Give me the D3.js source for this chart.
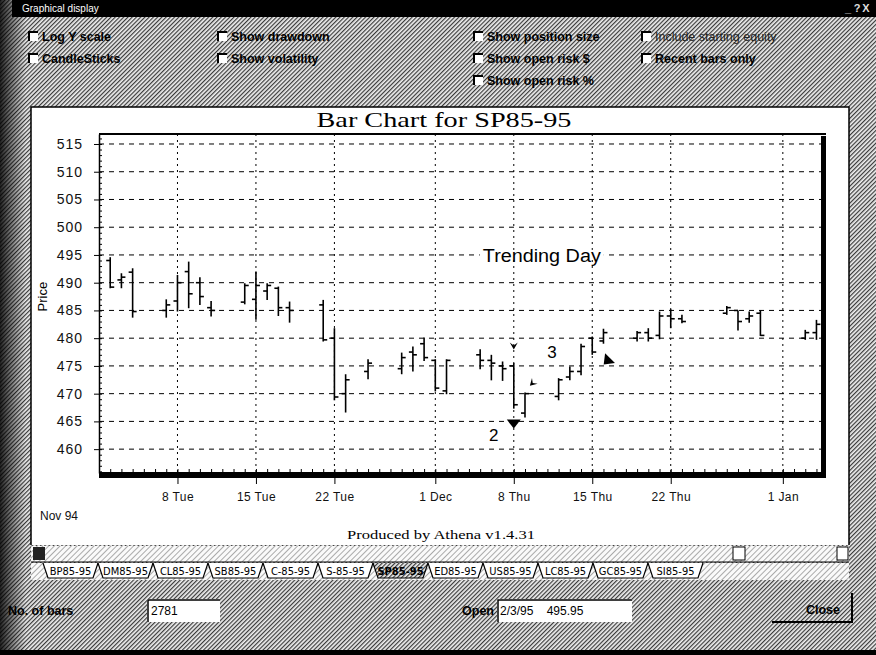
<!DOCTYPE html>
<html lang="en">
  <head>
    <meta charset="UTF-8" />
    <title>Bar Chart for SP85-95</title>
    <style>
      body {
        margin: 0;
        background: #fff;
      }
      svg {
        display: block;
        font-family: "Liberation Sans", Arial, sans-serif;
      }
    </style>
  </head>
  <body>
    <svg id="win" width="876" height="655"></svg>
    <script src="https://cdn.jsdelivr.net/npm/d3@7"></script>
    <script>
      // daily bars
      const barDates = [
        "1994-11-02", "1994-11-03", "1994-11-04", "1994-11-07", "1994-11-08", "1994-11-09",
        "1994-11-10", "1994-11-11", "1994-11-14", "1994-11-15", "1994-11-16", "1994-11-17",
        "1994-11-18", "1994-11-21", "1994-11-22", "1994-11-23", "1994-11-25", "1994-11-28",
        "1994-11-29", "1994-11-30", "1994-12-01", "1994-12-02", "1994-12-05", "1994-12-06",
        "1994-12-07", "1994-12-08", "1994-12-09", "1994-12-12", "1994-12-13", "1994-12-14",
        "1994-12-15", "1994-12-16", "1994-12-19", "1994-12-20", "1994-12-21", "1994-12-22",
        "1994-12-23", "1994-12-27", "1994-12-28", "1994-12-29", "1994-12-30", "1995-01-03",
        "1995-01-04",
      ];
      const opens = [
        494, 490.5, 491.9, 485, 486.7, 492, 490, 485.5, 486.5, 487, 488.5, 489, 485.5, 486, 480,
        470, 474, 474.5, 477.5, 479, 476, 470.5, 477, 476, 475, 475, 466.5, 469.5, 473, 474, 480,
        479.5, 480, 481, 480.5, 484, 483.5, 484.5, 485, 483.5, 484.5, 480, 481,
      ];
      const highs = [
        494.6, 491.7, 492.6, 487, 491.4, 493.8, 491, 486.7, 489.9, 492, 489.9, 489.3, 486.6,
        486.9, 481.8, 473.5, 476.2, 477.4, 478.5, 480.1, 476.2, 476.2, 478, 477, 475.8, 475.5,
        470.2, 472.8, 474.9, 479, 480.3, 481.7, 481.3, 481.8, 484.8, 485.2, 484.2, 485.8, 485,
        484.8, 485, 481.5, 483.3,
      ];
      const lows = [
        489, 489, 483.7, 483.7, 484.8, 485.4, 486, 483.9, 486.1, 483.3, 486.9, 484, 482.8, 479.4,
        468.8, 466.6, 472.6, 473.5, 474, 475.9, 470.4, 469.9, 474.4, 472.4, 472.3, 467.3, 465.7,
        468.8, 472.4, 473.3, 477, 479, 479.4, 479.4, 479.8, 481.8, 482.7, 484.2, 481.4, 482.8,
        480.4, 479.7, 479.7,
      ];
      const closes = [
        489.2, 491, 484.8, 486, 490, 488, 487.5, 485, 489.5, 489.5, 489.5, 485.5, 485, 479.7,
        469.4, 472.5, 475.5, 476.5, 477, 476.5, 471, 476, 476, 475.5, 474.5, 468, 470, 472.5, 474,
        478.5, 477.5, 481, 481, 480, 484, 483.5, 483, 485.5, 483, 484, 480.5, 481, 482.5,
      ];

      const yTicks = [460, 465, 470, 475, 480, 485, 490, 495, 500, 505, 510, 515];
      const tickDates = [
        "1994-11-08", "1994-11-15", "1994-11-22", "1994-12-01", "1994-12-08", "1994-12-15",
        "1994-12-22", "1995-01-01",
      ];
      const tickLabels = ["8 Tue", "15 Tue", "22 Tue", "1 Dec", "8 Thu", "15 Thu", "22 Thu", "1 Jan"];

      // trade markers and notes drawn on the chart
      const markerDates = ["1994-12-08", "1994-12-08", "1994-12-09T15:00", "1994-12-16T08:00"];
      const markerValues = [478.5, 464.6, 471.8, 475.9];
      const markerShapes = ["small", "big", "small", "big"];
      const markerTurns = [0, 0, 45, 45];
      const noteTexts = ["2", "3"];
      const noteDates = ["1994-12-06T05:00", "1994-12-11T10:00"];
      const noteValues = [462.5, 477.5];

      const checkLabels = [
        "Log Y scale", "CandleSticks", "Show drawdown", "Show volatility", "Show position size",
        "Show open risk $", "Show open risk %", "Include starting equity", "Recent bars only",
      ];
      const tabLabels = [
        "BP85-95", "DM85-95", "CL85-95", "SB85-95", "C-85-95", "S-85-95", "SP85-95", "ED85-95",
        "US85-95", "LC85-95", "GC85-95", "SI85-95",
      ];

      const W = 876;
      const H = 655;
      const svg = d3.select("#win");
      const defs = svg.append("defs");

      // dithered grey of the old window background
      const dither = defs
        .append("pattern")
        .attr("id", "dither")
        .attr("width", 3)
        .attr("height", 3)
        .attr("patternUnits", "userSpaceOnUse")
        .attr("patternTransform", "rotate(-45)");
      dither.append("rect").attr("width", 3).attr("height", 3).attr("fill", "#eeeeee");
      dither.append("rect").attr("width", 3).attr("height", 1.2).attr("fill", "#3a3a3a");

      const light = defs
        .append("pattern")
        .attr("id", "light")
        .attr("width", 4)
        .attr("height", 4)
        .attr("patternUnits", "userSpaceOnUse")
        .attr("patternTransform", "rotate(-45)");
      light.append("rect").attr("width", 4).attr("height", 4).attr("fill", "#fafafa");
      light.append("rect").attr("width", 4).attr("height", 0.7).attr("fill", "#888");

      const shade = defs.append("linearGradient").attr("id", "shade");
      shade.append("stop").attr("offset", 0).attr("stop-color", "#000").attr("stop-opacity", 0.85);
      shade.append("stop").attr("offset", 0.45).attr("stop-color", "#000").attr("stop-opacity", 0.45);
      shade.append("stop").attr("offset", 1).attr("stop-color", "#000").attr("stop-opacity", 0);

      svg.append("rect").attr("width", W).attr("height", H).attr("fill", "url(#dither)");

      // title bar
      svg.append("rect").attr("x", 12).attr("width", W - 12).attr("height", 17).attr("fill", "#000");
      svg
        .append("text")
        .attr("x", 22)
        .attr("y", 12)
        .attr("fill", "#fff")
        .attr("font-size", 10)
        .text("Graphical display");
      svg
        .selectAll(".winbtn")
        .data(["_", "?", "X"])
        .join("text")
        .attr("x", (d, i) => 848 + i * 9)
        .attr("y", 12)
        .attr("fill", "#ddd")
        .attr("font-size", 11)
        .attr("font-weight", "bold")
        .attr("text-anchor", "middle")
        .text((d) => d);

      // option checkboxes
      const checkX = [28, 28, 217, 217, 473, 473, 473, 641, 641];
      const checkY = [36, 58, 36, 58, 36, 58, 80, 36, 58];
      const checks = svg
        .selectAll(".check")
        .data(checkLabels)
        .join("g")
        .attr("transform", (d, i) => `translate(${checkX[i]},${checkY[i]})`);
      checks.append("rect").attr("x", 0).attr("y", -5).attr("width", 10).attr("height", 10).attr("fill", "#fff");
      checks.append("path").attr("d", "M1,5V-4H10").attr("fill", "none").attr("stroke", "#000").attr("stroke-width", 2);
      checks
        .append("text")
        .attr("x", 14)
        .attr("y", 4.5)
        .attr("font-size", 12.5)
        .attr("font-weight", (d) => (d.startsWith("Include") ? "normal" : "bold"))
        .attr("fill", (d) => (d.startsWith("Include") ? "#222" : "#000"))
        .text((d) => d);

      // white chart panel
      svg.append("rect").attr("x", 31).attr("y", 107).attr("width", 818).attr("height", 438).attr("fill", "#fff");
      svg.append("path").attr("d", "M31,545V107H849V545").attr("fill", "none").attr("stroke", "#000").attr("stroke-width", 1.5);

      const x = d3
        .scaleUtc()
        .domain([new Date("1994-11-01"), new Date("1995-01-04T14:00")])
        .range([99, 823]);
      const y = d3.scaleLinear().domain([455.7, 516.8]).range([473, 134]);
      const [x0, x1] = x.range();
      const [yb, yt] = y.range();

      const plot = svg.append("g");

      plot
        .selectAll(".hgrid")
        .data(yTicks)
        .join("line")
        .attr("x1", x0)
        .attr("x2", x1)
        .attr("y1", (d) => y(d))
        .attr("y2", (d) => y(d))
        .attr("stroke", "#000")
        .attr("stroke-dasharray", "5,5");
      plot
        .selectAll(".vgrid")
        .data(tickDates)
        .join("line")
        .attr("x1", (d) => x(new Date(d)))
        .attr("x2", (d) => x(new Date(d)))
        .attr("y1", yt)
        .attr("y2", yb)
        .attr("stroke", "#000")
        .attr("stroke-dasharray", "2,4");

      // note text sits on a white patch over the grid
      const trendX = x(new Date("1994-12-10T12:00"));
      const trendY = y(495);
      plot.append("rect").attr("x", trendX - 62).attr("y", trendY - 5).attr("width", 124).attr("height", 10).attr("fill", "#fff");
      plot
        .append("text")
        .attr("x", trendX)
        .attr("y", trendY + 7)
        .attr("text-anchor", "middle")
        .attr("font-size", 18)
        .attr("textLength", 118)
        .attr("lengthAdjust", "spacingAndGlyphs")
        .text("Trending Day");

      // frame: thin top, heavy right and bottom
      plot.append("line").attr("x1", x0).attr("x2", x1 + 3).attr("y1", yt).attr("y2", yt).attr("stroke", "#000").attr("stroke-width", 2);
      plot.append("rect").attr("x", x1 - 2).attr("y", yt + 2).attr("width", 5).attr("height", yb - yt + 3).attr("fill", "#000");
      plot.append("rect").attr("x", x0).attr("y", yb - 1).attr("width", x1 - x0 + 3).attr("height", 6).attr("fill", "#000");

      // y axis with unit minor ticks
      const yAxis = plot
        .append("g")
        .attr("transform", `translate(${x0},0)`)
        .call(d3.axisLeft(y).tickValues(yTicks).tickSize(5).tickSizeOuter(0).tickPadding(11));
      yAxis.select(".domain").attr("stroke-width", 1.5);
      yAxis.selectAll("text").attr("font-size", 14).attr("letter-spacing", 1).attr("fill", "#111");
      plot
        .append("g")
        .attr("transform", `translate(${x0},0)`)
        .call(d3.axisRight(y).tickValues(d3.range(456, 517)).tickSize(3).tickFormat(""))
        .call((g) => g.select(".domain").remove());

      // day ticks above the heavy base
      plot
        .append("g")
        .attr("transform", `translate(0,${yb - 1})`)
        .call(d3.axisTop(x).ticks(d3.utcDay).tickSize(3).tickFormat(""))
        .call((g) => g.select(".domain").remove());

      const xAxis = plot
        .append("g")
        .attr("transform", `translate(0,${yb + 5})`)
        .call(
          d3
            .axisBottom(x)
            .tickValues(tickDates.map((d) => new Date(d)))
            .tickFormat((d, i) => tickLabels[i])
            .tickSize(6)
            .tickPadding(8)
        );
      xAxis.select(".domain").remove();
      xAxis.selectAll("text").attr("font-size", 12).attr("letter-spacing", 0.4).attr("fill", "#111");

      svg.append("text").attr("x", 40).attr("y", 520).attr("font-size", 12).attr("fill", "#111").text("Nov 94");

      svg
        .append("text")
        .attr("transform", `translate(47,${y(487.5)}) rotate(-90)`)
        .attr("text-anchor", "middle")
        .attr("font-size", 13)
        .text("Price");

      svg
        .append("text")
        .attr("x", 444)
        .attr("y", 127)
        .attr("text-anchor", "middle")
        .attr("font-family", "'Liberation Serif', 'Times New Roman', serif")
        .attr("font-size", 22)
        .attr("textLength", 255)
        .attr("lengthAdjust", "spacingAndGlyphs")
        .text("Bar Chart for SP85-95");

      svg
        .append("text")
        .attr("x", 441)
        .attr("y", 539)
        .attr("text-anchor", "middle")
        .attr("font-family", "'Liberation Serif', 'Times New Roman', serif")
        .attr("font-size", 13)
        .attr("textLength", 188)
        .attr("lengthAdjust", "spacingAndGlyphs")
        .text("Produced by Athena v1.4.31");

      // OHLC bars
      const bars = plot
        .selectAll(".bar")
        .data(barDates)
        .join("g")
        .attr("stroke", "#000")
        .attr("stroke-width", 1.6);
      bars
        .append("line")
        .attr("x1", (d) => x(new Date(d)))
        .attr("x2", (d) => x(new Date(d)))
        .attr("y1", (d, i) => y(highs[i]))
        .attr("y2", (d, i) => y(lows[i]));
      bars
        .append("line")
        .attr("x1", (d) => x(new Date(d)) - 4)
        .attr("x2", (d) => x(new Date(d)))
        .attr("y1", (d, i) => y(opens[i]))
        .attr("y2", (d, i) => y(opens[i]));
      bars
        .append("line")
        .attr("x1", (d) => x(new Date(d)))
        .attr("x2", (d) => x(new Date(d)) + 4)
        .attr("y1", (d, i) => y(closes[i]))
        .attr("y2", (d, i) => y(closes[i]));

      const shapes = {
        small: "M-4,-4L0,3L4,-4L0,-1Z",
        big: "M-7,-4L7,-4L0,5Z",
      };
      plot
        .selectAll(".marker")
        .data(markerDates)
        .join("path")
        .attr("transform", (d, i) => `translate(${x(new Date(d))},${y(markerValues[i])}) rotate(${markerTurns[i]})`)
        .attr("d", (d, i) => shapes[markerShapes[i]])
        .attr("fill", "#000");
      plot
        .selectAll(".note")
        .data(noteTexts)
        .join("text")
        .attr("x", (d, i) => x(new Date(noteDates[i])))
        .attr("y", (d, i) => y(noteValues[i]) + 6)
        .attr("text-anchor", "middle")
        .attr("font-size", 17)
        .text((d) => d);

      // scroll bar
      svg.append("rect").attr("x", 31).attr("y", 546).attr("width", 818).attr("height", 16).attr("fill", "url(#light)");
      svg.append("rect").attr("x", 33).attr("y", 547).attr("width", 12).attr("height", 13).attr("fill", "#222");
      svg.append("rect").attr("x", 733).attr("y", 547).attr("width", 12).attr("height", 13).attr("fill", "#fff").attr("stroke", "#000");
      svg.append("rect").attr("x", 837).attr("y", 547).attr("width", 11).attr("height", 13).attr("fill", "#fff").attr("stroke", "#000");
      svg.append("line").attr("x1", 31).attr("x2", 849).attr("y1", 562).attr("y2", 562).attr("stroke", "#000");

      // sheet tabs
      svg.append("rect").attr("x", 31).attr("y", 563).attr("width", 818).attr("height", 17).attr("fill", "url(#light)");
      const tabW = 55;
      const tabs = svg
        .selectAll(".tab")
        .data(tabLabels)
        .join("g")
        .attr("transform", (d, i) => `translate(${43 + i * tabW},563)`);
      tabs
        .append("path")
        .attr("d", `M0,0L5,15H${tabW - 5}L${tabW},0`)
        .attr("fill", (d) => (d === "SP85-95" ? "url(#dither)" : "#fff"))
        .attr("stroke", "#000")
        .attr("stroke-width", 1.2);
      tabs
        .append("text")
        .attr("x", tabW / 2)
        .attr("y", 11.5)
        .attr("text-anchor", "middle")
        .attr("font-family", "'Liberation Sans Narrow', 'DejaVu Sans Condensed', sans-serif")
        .attr("font-size", 11)
        .attr("font-weight", (d) => (d === "SP85-95" ? "bold" : "normal"))
        .text((d) => d);

      // bottom row of the dialog
      svg.append("text").attr("x", 8).attr("y", 615).attr("font-size", 12.5).attr("font-weight", "bold").text("No. of bars");
      svg.append("rect").attr("x", 147).attr("y", 599).attr("width", 73).attr("height", 23).attr("fill", "#fff");
      svg.append("path").attr("d", "M148,622V600H220").attr("fill", "none").attr("stroke", "#000").attr("stroke-width", 1.5);
      svg.append("text").attr("x", 151).attr("y", 615).attr("font-size", 12).text("2781");

      svg.append("text").attr("x", 494).attr("y", 615).attr("text-anchor", "end").attr("font-size", 12.5).attr("font-weight", "bold").text("Open");
      svg.append("rect").attr("x", 497).attr("y", 599).attr("width", 135).attr("height", 23).attr("fill", "#fff");
      svg.append("path").attr("d", "M498,622V600H632").attr("fill", "none").attr("stroke", "#000").attr("stroke-width", 1.5);
      svg.append("text").attr("x", 500).attr("y", 615).attr("font-size", 12).attr("xml:space", "preserve").text("2/3/95    495.95");

      svg.append("path").attr("d", "M772,622H852V593").attr("fill", "none").attr("stroke", "#000").attr("stroke-width", 2);
      svg.append("text").attr("x", 823).attr("y", 614).attr("text-anchor", "middle").attr("font-size", 12.5).attr("font-weight", "bold").text("Close");

      svg.append("rect").attr("y", 650).attr("width", W).attr("height", 5).attr("fill", "#000");
      svg.append("rect").attr("width", 26).attr("height", H).attr("fill", "url(#shade)");
    </script>
  </body>
</html>
